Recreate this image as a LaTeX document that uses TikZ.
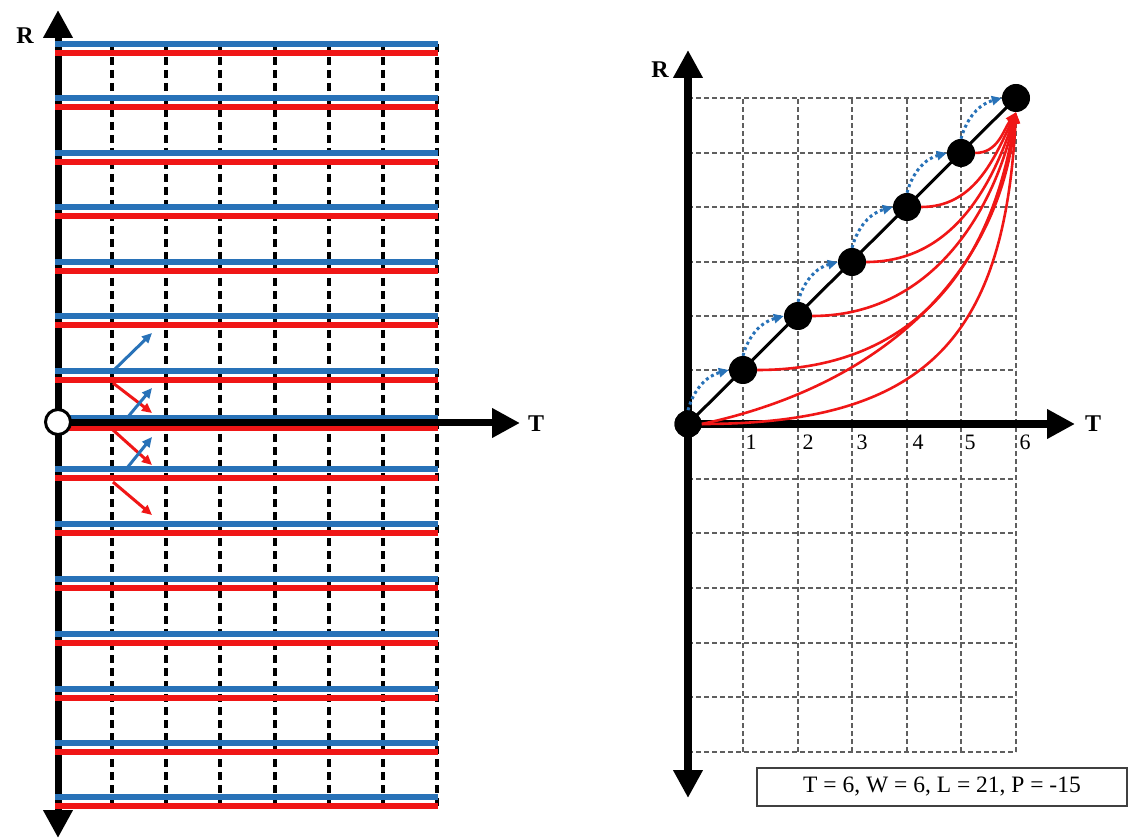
\documentclass[tikz,border=0pt]{standalone}
\usepackage{fontspec}
\setmainfont{Liberation Serif}
\usetikzlibrary{arrows.meta}
\definecolor{lblue}{RGB}{40,114,184}
\definecolor{lred}{RGB}{240,22,22}
\definecolor{gridgray}{RGB}{95,95,95}
\begin{document}
\begin{tikzpicture}[x=1pt,y=1pt,
  bigtip/.tip={Triangle[length=28pt,width=28pt]},
  axisline/.style={line width=7pt,black},
  bline/.style={line width=5.5pt,lblue},
  rline/.style={line width=5.5pt,lred},
  vdash/.style={line width=3.2pt,black,dash pattern=on 8pt off 5pt},
  smallblue/.style={line width=3pt,lblue,-{Triangle[length=10pt,width=9pt]}},
  smallred/.style={line width=3pt,lred,-{Triangle[length=10pt,width=9pt]}},
  gridl/.style={line width=1.5pt,gridgray,dash pattern=on 5pt off 3pt},
  dotnode/.style={circle,fill=black,inner sep=0pt,minimum size=28pt},
  rcurve/.style={line width=2.6pt,lred,-{Triangle[length=11pt,width=9pt]}},
  bcurve/.style={line width=3pt,lblue,dash pattern=on 3pt off 3pt,-{Triangle[length=10pt,width=9pt]}},
  axlabel/.style={font=\fontsize{24}{28}\selectfont\bfseries},
  numlabel/.style={font=\fontsize{22}{26}\selectfont}
]
\useasboundingbox (0,0) rectangle (1132,839);
\fill[white] (0,0) rectangle (1132,839);

% ---------------- left panel ----------------
\draw[axisline,bigtip-bigtip] (58,1) -- (58,829);
\foreach \x in {112,166,220,275,329,383,437}
  \draw[vdash] (\x,795) -- (\x,32);
\foreach \b in {795,741,686,632,577,523,468,370,315,260,205,150,96,42}{
  \draw[bline] (55,\b) -- (438,\b);
  \draw[rline] (55,\b-9) -- (438,\b-9);
}
\draw[bline] (55,421) -- (438,421);
\draw[rline] (55,411) -- (438,411);
\draw[axisline,-bigtip] (58,416) -- (520,416) coordinate (tl);
\node[circle,draw=black,line width=3pt,fill=white,minimum size=25pt,inner sep=0pt] (o1) at (58,417) {};
\node[axlabel] (Tl) at (536,415) {T};
\node[axlabel] (Rl) at (25,803) {R};

\coordinate (ba1) at (113,468); \coordinate (bb1) at (152,506);
\coordinate (ba2) at (127,421); \coordinate (bb2) at (152,451);
\coordinate (ba3) at (127,371); \coordinate (bb3) at (152,402);
\coordinate (ra1) at (113,456); \coordinate (rb1) at (152,426);
\coordinate (ra2) at (113,409); \coordinate (rb2) at (152,374);
\coordinate (ra3) at (113,357); \coordinate (rb3) at (152,324);
\draw[smallred] (ra1) -- (rb1);
\draw[smallred] (ra2) -- (rb2);
\draw[smallred] (ra3) -- (rb3);
\draw[smallblue] (ba1) -- (bb1);
\draw[smallblue] (ba2) -- (bb2);
\draw[smallblue] (ba3) -- (bb3);

% ---------------- right panel ----------------
\foreach \x in {743,798,852,907,961,1016}
  \draw[gridl] (\x,87) -- (\x,741);
\foreach \y in {741,686,632,577,523,469,360,306,251,196,142,87}
  \draw[gridl] (688,\y) -- (1016,\y);

\draw[line width=8pt,black,bigtip-bigtip] (688,41) -- (688,789);
\draw[line width=8pt,black,-bigtip] (688,415) -- (1075,415);
\node[axlabel] (Tr) at (1093,415) {T};
\node[axlabel] (Rr) at (660,769) {R};

\foreach \n/\x in {1/751,2/808,3/862,4/918,5/970,6/1025}
  \node[numlabel] (n\n) at (\x,397) {\n};

\coordinate (c0) at (688,415);
\coordinate (c6) at (1016,741);
\draw[line width=3pt,black] (c0) -- (c6);

\node[dotnode,minimum size=27pt] (d0) at (688,415) {};
\node[dotnode] (d1) at (743,469) {};
\node[dotnode] (d2) at (798,523) {};
\node[dotnode] (d3) at (852,577) {};
\node[dotnode] (d4) at (907,632) {};
\node[dotnode] (d5) at (961,686) {};
\node[dotnode] (d6) at (1016,741) {};

\draw[rcurve] (d0.east) to[out=0,in=267,looseness=1.3] (d6.south);
\draw[rcurve] (d0.east) to[out=12,in=264,looseness=1.0] (d6.south);
\draw[rcurve] (d1.east) to[out=0,in=261,looseness=1.1] (d6.south);
\draw[rcurve] (d2.east) to[out=0,in=257] (d6.south);
\draw[rcurve] (d3.east) to[out=0,in=252] (d6.south);
\draw[rcurve] (d4.east) to[out=0,in=245] (d6.south);
\draw[rcurve] (d5.east) to[out=0,in=235] (d6.south);

\draw[bcurve] (d0.north) to[out=75,in=195] (d1.west);
\draw[bcurve] (d1.north) to[out=75,in=195] (d2.west);
\draw[bcurve] (d2.north) to[out=75,in=195] (d3.west);
\draw[bcurve] (d3.north) to[out=75,in=195] (d4.west);
\draw[bcurve] (d4.north) to[out=75,in=195] (d5.west);
\draw[bcurve] (d5.north) to[out=75,in=195] (d6.west);

\foreach \i in {0,...,6} \fill[black] (d\i) circle (13.5pt);

\node[draw=black!75,line width=1.5pt,minimum width=370pt,minimum height=38pt,inner sep=0pt,
  font=\fontsize{23.5}{28}\selectfont] (box) at (942,52) {T = 6, W = 6, L = 21, P = -15};
\end{tikzpicture}
\end{document}
